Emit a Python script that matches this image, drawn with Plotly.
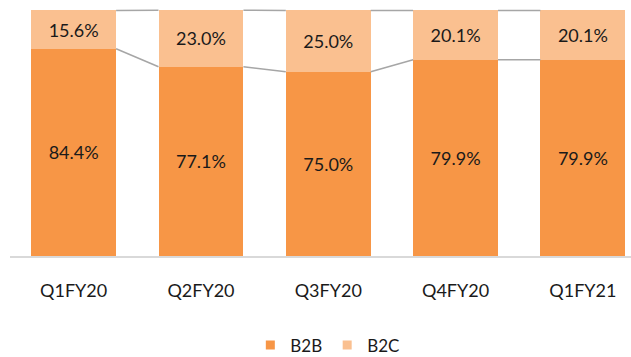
import plotly.graph_objects as go

categories = ["Q1FY20", "Q2FY20", "Q3FY20", "Q4FY20", "Q1FY21"]
b2b = [84.4, 77.1, 75.0, 79.9, 79.9]
b2c = [15.6, 23.0, 25.0, 20.1, 20.1]

C_B2B = "#F79646"
C_B2C = "#FAC090"
LINE = "#A6A6A6"
FONT = "Lato"
BAR_W = 0.667

x = list(range(len(categories)))
tops = [a + b for a, b in zip(b2b, b2c)]

fig = go.Figure()

# series lines between bars
for i in range(len(x) - 1):
    xs = [x[i] + BAR_W / 2, x[i + 1] - BAR_W / 2]
    for ys in ([b2b[i], b2b[i + 1]], [tops[i], tops[i + 1]]):
        fig.add_trace(go.Scatter(x=xs, y=ys, mode="lines", cliponaxis=False,
                                 line=dict(color=LINE, width=1.5),
                                 showlegend=False, hoverinfo="skip"))

fig.add_trace(go.Bar(x=x, y=b2b, width=BAR_W, marker=dict(color=C_B2B, line=dict(width=0)),
                     text=[f"{v:.1f}%" for v in b2b], textposition="inside",
                     insidetextanchor="middle", textangle=0,
                     textfont=dict(family=FONT, size=18, color="#1a1a1a"),
                     showlegend=False, name="B2B"))
fig.add_trace(go.Bar(x=x, y=b2c, width=BAR_W, marker=dict(color=C_B2C, line=dict(width=0)),
                     text=[f"{v:.1f}%" for v in b2c], textposition="inside",
                     insidetextanchor="middle", textangle=0,
                     textfont=dict(family=FONT, size=18, color="#1a1a1a"),
                     showlegend=False, name="B2C"))

# legend entries with small square markers
for name, col in (("B2B", C_B2B), ("B2C", C_B2C)):
    fig.add_trace(go.Scatter(x=[None], y=[None], mode="markers", name=name,
                             marker=dict(symbol="square", size=9, color=col)))

fig.update_layout(
    width=631, height=357,
    margin=dict(l=9.5, r=0, t=8.25, b=101.3, autoexpand=False),
    barmode="stack",
    plot_bgcolor="white", paper_bgcolor="white",
    showlegend=True,
    legend=dict(orientation="h", x=0.387, xanchor="left", y=-0.361, yanchor="middle",
                traceorder="normal", borderwidth=0,
                font=dict(family=FONT, size=17, color="#1a1a1a"),
                itemwidth=30, tracegroupgap=0),
    xaxis=dict(range=[-0.5, 4.378], tickvals=x, ticktext=categories,
               showgrid=False, zeroline=False, showline=True,
               linecolor="#D9D9D9", linewidth=1.5,
               tickfont=dict(family=FONT, size=18, color="#1a1a1a"),
               ticks="", ticklabelstandoff=18, fixedrange=True),
    yaxis=dict(range=[0, 101], visible=False, fixedrange=True),
)

fig.write_html("out.html")
